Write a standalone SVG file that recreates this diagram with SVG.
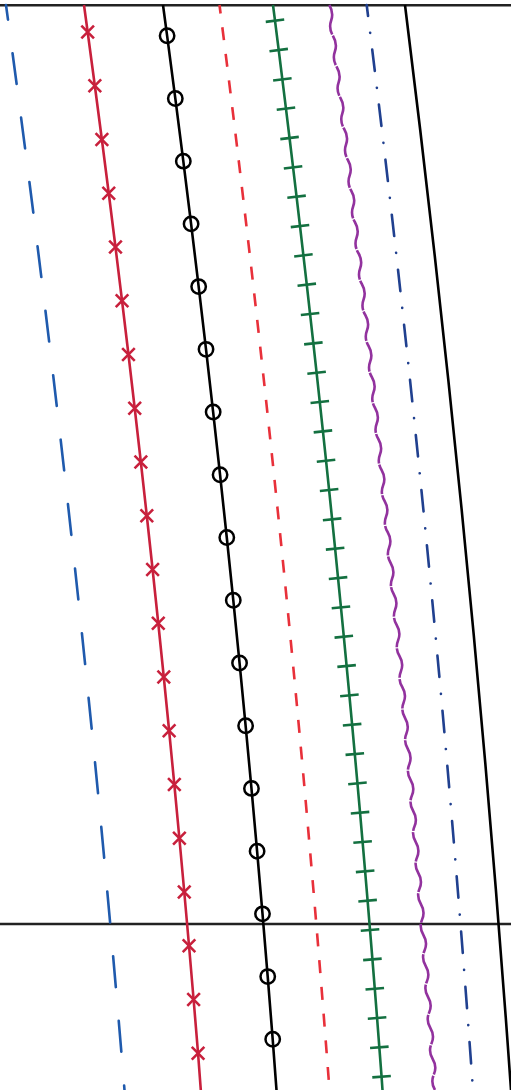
<svg xmlns="http://www.w3.org/2000/svg" width="511" height="1090" viewBox="0 0 511 1090">
<style>
.ln{fill:none;stroke-width:2.6}
.hz{stroke:#222;stroke-width:2.6}
</style>
<defs>
<marker id="mx" markerUnits="userSpaceOnUse" viewBox="-8 -8 16 16" refX="0" refY="0" markerWidth="16" markerHeight="16" orient="0" overflow="visible">
<path d="M-6.3,-6.3L6.3,6.3M6.3,-6.3L-6.3,6.3" stroke="#c8203c" stroke-width="2.6" fill="none"/>
</marker>
<marker id="mo" markerUnits="userSpaceOnUse" viewBox="-9 -9 18 18" refX="0" refY="0" markerWidth="18" markerHeight="18" orient="0" overflow="visible">
<circle r="7.2" fill="none" stroke="#000" stroke-width="2.5"/>
</marker>
<marker id="mt" markerUnits="userSpaceOnUse" viewBox="-10 -10 20 20" refX="0" refY="0" markerWidth="20" markerHeight="20" orient="auto" overflow="visible">
<path d="M0,-9.3L0,9.3" stroke="#137040" stroke-width="2.6" fill="none"/>
</marker>
</defs>
<rect width="511" height="1090" fill="#fff"/>
<g id="axes">
<line class="hz" x1="0" y1="5.3" x2="511" y2="5.3"/>
<line class="hz" x1="0" y1="924" x2="511" y2="924"/>
</g>
<g id="connectors">
<path id="line1" class="ln" d="M6,5 Q80.2,547.5 124.5,1090" stroke="#1f5aad" stroke-dasharray="31 33.9" stroke-dashoffset="16.25" stroke-linecap="round"/>
<polyline id="line2" class="ln" stroke="#c8203c" marker-mid="url(#mx)" points="84,5 87.66,32 94.84,85.75 101.87,139.5 108.75,193.25 115.47,247 122.04,300.75 128.46,354.5 134.72,408.25 140.84,462 146.80,515.75 152.61,569.5 158.27,623.25 163.77,677 169.13,730.75 174.33,784.5 179.38,838.25 184.27,892 189.02,945.75 193.61,999.5 198.05,1053.25 200.8,1090"/>
<polyline id="line3" class="ln" stroke="#000" marker-mid="url(#mo)" points="163,5 167.10,35.7 175.31,98.43 183.31,161.15 191.09,223.88 198.66,286.6 206.02,349.33 213.15,412.05 220.08,474.78 226.78,537.5 233.28,600.23 239.55,662.95 245.61,725.68 251.46,788.4 257.09,851.13 262.51,913.85 267.71,976.58 272.70,1039.3 276.5,1090"/>
<path id="line4" class="ln" d="M219.5,5 Q288.5,547.5 329.5,1090" stroke="#e8303a" stroke-dasharray="13 13.8" stroke-dashoffset="4.4"/>
<polyline id="line5" class="ln" stroke="#137040" marker-mid="url(#mt)" points="273,5 275.00,20.7 278.70,50.03 282.35,79.37 285.97,108.7 289.54,138.03 293.07,167.37 296.56,196.7 300.00,226.03 303.40,255.36 306.77,284.7 310.08,314.03 313.36,343.36 316.59,372.7 319.79,402.03 322.94,431.36 326.05,460.7 329.11,490.03 332.13,519.36 335.12,548.69 338.05,578.03 340.95,607.36 343.81,636.69 346.62,666.03 349.39,695.36 352.12,724.69 354.80,754.03 357.45,783.36 360.05,812.69 362.61,842.02 365.13,871.36 367.60,900.69 370.03,930.02 372.42,959.36 374.77,988.69 377.08,1018.02 379.34,1047.36 381.57,1076.69 382.5,1090"/>
<path id="line6" class="ln" stroke="#92329e" stroke-dasharray="30.5 1.2" d="M329.3,5 q4.63,7.75 1.859,15.5 t1.859,15.5 t1.859,15.5 t1.859,15.5 t1.859,15.5 t1.859,15.5 t1.859,15.5 t1.859,15.5 t1.859,15.5 t1.859,15.5 t1.743,15.5 t1.743,15.5 t1.743,15.5 t1.743,15.5 t1.743,15.5 t1.743,15.5 t1.743,15.5 t1.743,15.5 t1.743,15.5 t1.743,15.5 t1.626,15.5 t1.626,15.5 t1.626,15.5 t1.626,15.5 t1.626,15.5 t1.626,15.5 t1.626,15.5 t1.626,15.5 t1.626,15.5 t1.626,15.5 t1.51,15.5 t1.51,15.5 t1.51,15.5 t1.51,15.5 t1.51,15.5 t1.51,15.5 t1.51,15.5 t1.51,15.5 t1.51,15.5 t1.51,15.5 t1.394,15.5 t1.394,15.5 t1.394,15.5 t1.394,15.5 t1.394,15.5 t1.394,15.5 t1.394,15.5 t1.394,15.5 t1.394,15.5 t1.394,15.5 t1.277,15.5 t1.277,15.5 t1.277,15.5 t1.277,15.5 t1.277,15.5 t1.277,15.5 t1.277,15.5 t1.277,15.5 t1.277,15.5 t1.277,15.5 t1.161,15.5 t1.161,15.5 t1.161,15.5 t1.161,15.5 t1.161,15.5 t1.161,15.5 t1.161,15.5 t1.161,15.5 t1.161,15.5 t1.161,15.5"/>
<path id="line7" class="ln" d="M366.7,5 Q434.4,547.5 473,1090" stroke="#20408f" stroke-width="2.8" stroke-linecap="round" stroke-dasharray="21.5 16.9 0.1 16.9" stroke-dashoffset="10.45"/>
<path id="line8" class="ln" d="M405,5 Q472.8,547.5 511,1090" stroke="#000"/>
</g>
</svg>
